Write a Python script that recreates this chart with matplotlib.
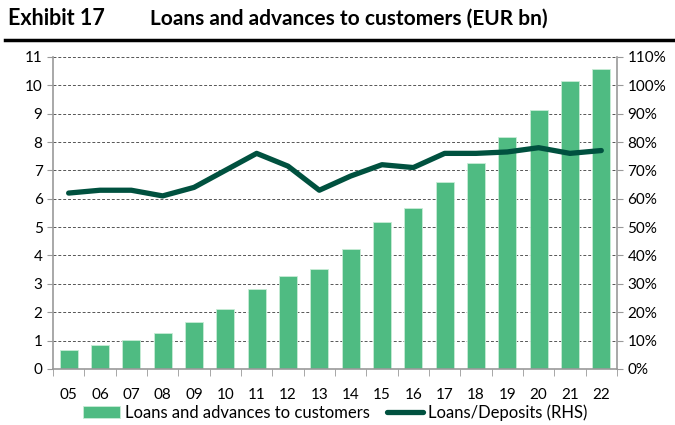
import matplotlib.pyplot as plt
import numpy as np
from matplotlib.ticker import MultipleLocator, FixedLocator

plt.rcParams["font.family"] = ["Lato", "DejaVu Sans"]

years = ["05", "06", "07", "08", "09", "10", "11", "12", "13",
         "14", "15", "16", "17", "18", "19", "20", "21", "22"]
loans = [0.65, 0.85, 1.01, 1.26, 1.65, 2.12, 2.83, 3.28, 3.53,
         4.24, 5.19, 5.69, 6.58, 7.25, 8.17, 9.13, 10.14, 10.59]
ldr = [62, 63, 63, 61, 64, 70, 76, 71.5, 63,
       68, 72, 71, 76, 76, 76.5, 78, 76, 77]

bar_col = "#4fbb82"
line_col = "#00513f"
axis_col = "#999999"

fig = plt.figure(figsize=(6.75, 4.25), dpi=100)
ax = fig.add_axes([0.0785, 0.132, 0.8355, 0.734])
x = np.arange(len(years))

ax.bar(x, loans, width=0.57, color=bar_col, edgecolor="#c8ecd6", linewidth=0.6,
       label="Loans and advances to customers", zorder=2)
ax.set_xlim(-0.5, len(years) - 0.5)
ax.set_ylim(0, 11)
ax.yaxis.set_major_locator(MultipleLocator(1))
ax.grid(axis="y", linestyle=(0, (3, 2)), color="#555555", linewidth=0.7, zorder=0)
ax.set_axisbelow(True)
ax.set_xticks(x)
ax.set_xticklabels(years)
ax.xaxis.set_minor_locator(FixedLocator(np.arange(-0.5, len(years), 1)))
ax.tick_params(axis="x", which="major", length=0, pad=14)
ax.tick_params(axis="x", which="minor", length=5, color=axis_col)
ax.tick_params(axis="y", length=4, color=axis_col, labelsize=11)
ax.tick_params(axis="x", labelsize=11)
for s in ["top", "right"]:
    ax.spines[s].set_visible(False)
for s in ["left", "bottom"]:
    ax.spines[s].set_color(axis_col)
    ax.spines[s].set_linewidth(1.2)

ax2 = ax.twinx()
ax2.plot(x, ldr, color=line_col, linewidth=3.8, solid_capstyle="round",
         label="Loans/Deposits (RHS)", zorder=3)
ax2.set_ylim(0, 110)
ax2.set_yticks(range(0, 111, 10))
ax2.set_yticklabels([f"{v}%" for v in range(0, 111, 10)])
ax2.tick_params(axis="y", length=4, color=axis_col, labelsize=11)
for s in ["top", "left", "bottom"]:
    ax2.spines[s].set_visible(False)
ax2.spines["right"].set_color(axis_col)
ax2.spines["right"].set_linewidth(1.2)

h1, l1 = ax.get_legend_handles_labels()
h2, l2 = ax2.get_legend_handles_labels()
fig.legend(h1 + h2, l1 + l2, loc="center", bbox_to_anchor=(0.497, 0.03),
           ncol=2, frameon=False, fontsize=12, handlelength=2.2,
           handletextpad=0.3, columnspacing=1.0)

fig.text(0.012, 0.957, "Exhibit 17", fontsize=15.5, fontweight="bold", va="center")
fig.text(0.222, 0.957, "Loans and advances to customers (EUR bn)", fontsize=15,
         fontweight="bold", va="center")
fig.add_artist(plt.Line2D([0.008, 1.0], [0.905, 0.905], color="black", linewidth=2.5))

fig.savefig("out.png", dpi=100)
